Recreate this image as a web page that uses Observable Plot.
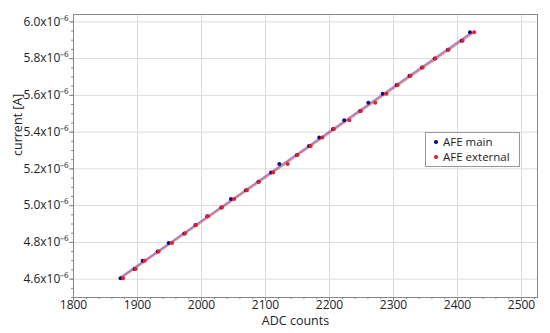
<!DOCTYPE html>
<html><head><meta charset="utf-8">
<script src="https://cdn.jsdelivr.net/npm/d3@7"></script>
<script src="https://cdn.jsdelivr.net/npm/@observablehq/plot@0.6"></script>
<style>
body{margin:0;background:#fff;font-family:"Open Sans",sans-serif;}
#wrap{position:relative;width:550px;height:333px;}
#legend{position:absolute;left:425px;top:132px;width:93px;height:32px;border:1px solid #999;background:#fff;font-size:11.5px;color:#222;line-height:15px;padding-top:1px;box-sizing:content-box;}
#legend div{position:relative;padding-left:17px;white-space:nowrap;}
#legend span{position:absolute;left:8px;top:6px;width:3.5px;height:3.5px;border-radius:50%;}
</style>
</head><body>
<div id="wrap"><div id="legend">
<div><span style="background:#101080"></span>AFE main</div>
<div><span style="background:#e8202a"></span>AFE external</div>
</div></div>
<script>
// current levels in units of 1e-6 A
const currentLevels = [4.605,4.655,4.700,4.750,4.797,4.848,4.895,4.942,4.990,5.036,5.084,5.130,5.180,5.227,5.275,5.324,5.370,5.417,5.464,5.515,5.560,5.609,5.656,5.707,5.752,5.800,5.848,5.897,5.944];
const adcMain =     [1873.5,1895.5,1908,1931.5,1948.7,1973,1990.5,2009,2031,2046,2069.5,2089,2108.6,2121.6,2149,2168,2184,2205.5,2223,2248,2260.6,2283,2305,2325,2344.5,2364.5,2385,2406.5,2419.5];
const adcExternal = [1877.5,1897,1911,1933,1954,1974.5,1991.5,2010,2032,2051,2071,2090,2112,2134.7,2150,2170.6,2188.8,2207,2231,2249,2271.6,2289,2306.5,2326.5,2345.5,2365.5,2386,2408,2426];
const xTicks = [1800,1900,2000,2100,2200,2300,2400,2500];
const yTicks = [4.6,4.8,5.0,5.2,5.4,5.6,5.8,6.0];
const xMinor = d3.range(1800, 2521, 20);
const yMinor = d3.range(4.5, 6.041, 0.05);

const mainData = currentLevels.map((c,i)=>({adc: adcMain[i], current: c}));
const extData = currentLevels.map((c,i)=>({adc: adcExternal[i], current: c}));

const chart = Plot.plot({
  width: 550, height: 333,
  marginLeft: 73, marginRight: 13, marginTop: 14, marginBottom: 36,
  style: {fontFamily: "'Open Sans', sans-serif", fontSize: "12px", color: "#222", background: "#fff"},
  x: {domain: [1800, 2525]},
  y: {domain: [4.5, 6.04]},
  marks: [
    Plot.gridX(xTicks, {stroke: "#dcdcdc", strokeOpacity: 1}),
    Plot.gridY(yTicks, {stroke: "#dcdcdc", strokeOpacity: 1}),
    Plot.frame({stroke: "#888"}),
    Plot.axisX(xMinor, {tickSize: 2, text: null, label: null, stroke: "#888"}),
    Plot.axisY(yMinor, {tickSize: 2, text: null, label: null, stroke: "#888"}),
    Plot.axisX(xTicks, {tickSize: 4, tickPadding: -1, label: null, stroke: "#888", fill: "#222", fontSize: 12,
      tickFormat: d => String(d)}),
    Plot.axisY(yTicks, {tickSize: 4, tickPadding: 1, label: null, stroke: "#888", fill: "#222", fontSize: 12,
      tickFormat: d => d.toFixed(1) + "x10\u207B\u2076"}),
    Plot.text(["ADC counts"], {text: d => d, frameAnchor: "bottom", dy: 27, dx: -10, fontSize: 12.5, fill: "#222"}),
    Plot.text(["current [A]"], {text: d => d, frameAnchor: "left", rotate: -90, dx: -56, fontSize: 12.5, fill: "#222"}),
    Plot.linearRegressionY(mainData, {x: "adc", y: "current", stroke: "#3030b0", strokeWidth: 1.8, strokeOpacity: 0.5, ci: 0}),
    Plot.linearRegressionY(extData, {x: "adc", y: "current", stroke: "#e03040", strokeWidth: 1.8, strokeOpacity: 0.5, ci: 0}),
    Plot.dot(mainData, {x: "adc", y: "current", r: 2, fill: "#101080", stroke: "none"}),
    Plot.dot(extData, {x: "adc", y: "current", r: 2, fill: "#e8202a", stroke: "none"})
  ]
});
document.getElementById("wrap").prepend(chart);
</script>
</body></html>
